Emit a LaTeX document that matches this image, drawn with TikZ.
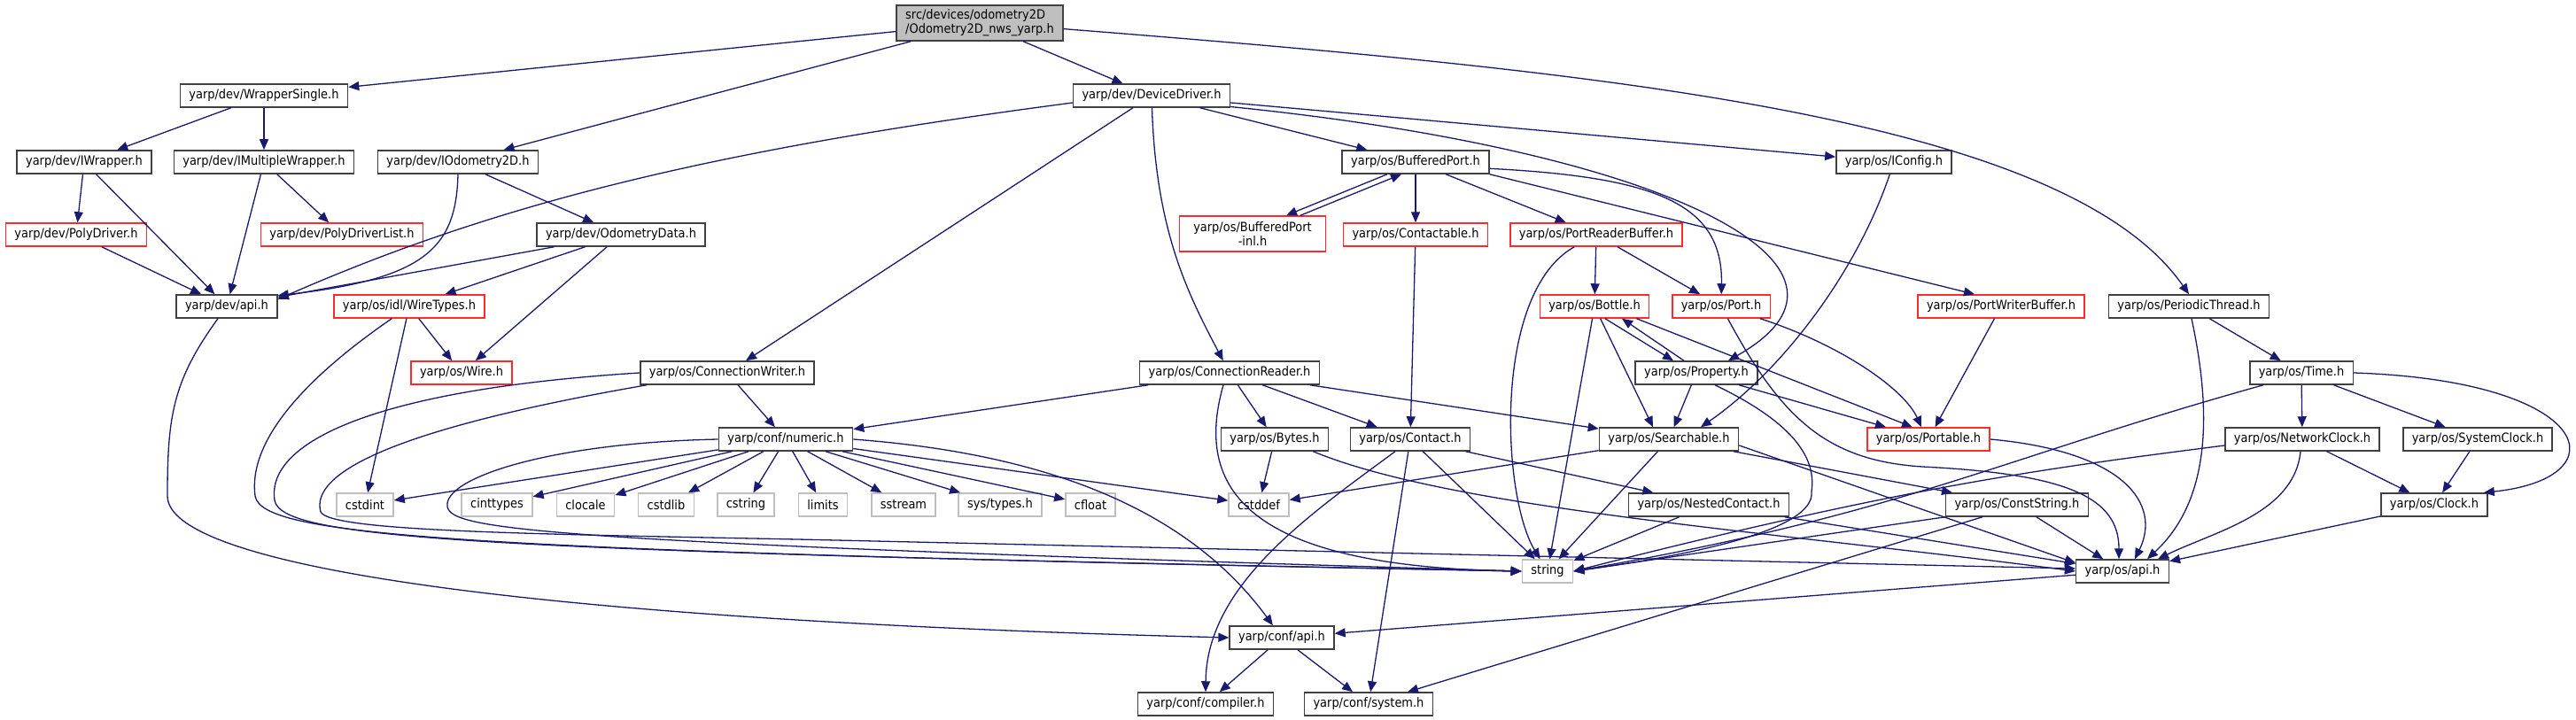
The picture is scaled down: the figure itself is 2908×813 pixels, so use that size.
\documentclass[tikz,border=0pt]{standalone}
\usepackage{fontspec}
\setmainfont{DejaVu Sans Condensed}
\usetikzlibrary{arrows.meta,calc}
\definecolor{edgeblue}{HTML}{191970}
\definecolor{boxline}{HTML}{404040}
\definecolor{truncred}{HTML}{FF2A2A}
\definecolor{extgray}{HTML}{BFBFBF}
\definecolor{rootfill}{HTML}{BFBFBF}

\begin{document}
\begin{tikzpicture}[
  x=0.5pt,y=-0.5pt,
  hdr/.style={draw=boxline,fill=white,line width=0.75pt,minimum height=13pt,
              inner xsep=5pt,inner ysep=1pt,text=black,
              font=\fontsize{7.2}{8.2}\selectfont},
  trunc/.style={hdr,draw=truncred},
  ext/.style={hdr,draw=extgray},
  root/.style={hdr,fill=rootfill,align=left,minimum height=20pt},
  dep/.style={-{Triangle[length=6pt,width=5pt]},draw=edgeblue,line width=0.65pt}
]
\fill[white] (0,0) rectangle (2908,813);
\useasboundingbox (0,0) rectangle (2908,813);

% Top of the graph
\node[root] (root) at (1106,26) {src/devices/odometry2D\\/Odometry2D\_nws\_yarp.h};
\node[hdr] (wrapsingle) at (298,108) {yarp/dev/WrapperSingle.h};
\node[hdr] (devdriver) at (1300,108) {yarp/dev/DeviceDriver.h};

% yarp/dev headers
\node[hdr] (iwrapper) at (95,183) {yarp/dev/IWrapper.h};
\node[hdr] (imultiwrap) at (298,183) {yarp/dev/IMultipleWrapper.h};
\node[hdr] (iodom) at (517,183) {yarp/dev/IOdometry2D.h};
\node[trunc] (polydrv) at (86,265) {yarp/dev/PolyDriver.h};
\node[trunc] (polylist) at (386,265) {yarp/dev/PolyDriverList.h};
\node[hdr] (odomdata) at (701,265) {yarp/dev/OdometryData.h};
\node[hdr] (devapi) at (256,346) {yarp/dev/api.h};
\node[trunc] (wiretypes) at (462,346) {yarp/os/idl/WireTypes.h};
\node[trunc] (wire) at (521,421) {yarp/os/Wire.h};

% yarp/os headers
\node[hdr] (bufport) at (1598,183) {yarp/os/BufferedPort.h};
\node[hdr] (iconfig) at (2138,183) {yarp/os/IConfig.h};
\node[trunc,align=center,minimum height=20pt,inner xsep=8pt] (bufinl) at (1414,264)
  {yarp/os/BufferedPort\\-inl.h};
\node[trunc] (contactable) at (1598,265) {yarp/os/Contactable.h};
\node[trunc] (preader) at (1802,265) {yarp/os/PortReaderBuffer.h};
\node[trunc] (bottle) at (1800,346) {yarp/os/Bottle.h};
\node[trunc] (port) at (1943,346) {yarp/os/Port.h};
\node[trunc] (pwriter) at (2259,346) {yarp/os/PortWriterBuffer.h};
\node[hdr] (periodic) at (2471,346) {yarp/os/PeriodicThread.h};
\node[hdr] (connwriter) at (821,421) {yarp/os/ConnectionWriter.h};
\node[hdr] (connreader) at (1388,421) {yarp/os/ConnectionReader.h};
\node[hdr] (property) at (1915,421) {yarp/os/Property.h};
\node[hdr] (time) at (2598,421) {yarp/os/Time.h};
\node[hdr] (numeric) at (887,496) {yarp/conf/numeric.h};
\node[hdr] (bytes) at (1439,496) {yarp/os/Bytes.h};
\node[hdr] (contact) at (1592,496) {yarp/os/Contact.h};
\node[hdr] (searchable) at (1884,496) {yarp/os/Searchable.h};
\node[trunc] (portable) at (2177,496) {yarp/os/Portable.h};
\node[hdr] (netclock) at (2599,496) {yarp/os/NetworkClock.h};
\node[hdr] (sysclock) at (2797,496) {yarp/os/SystemClock.h};
\node[hdr] (nested) at (1929,570) {yarp/os/NestedContact.h};
\node[hdr] (conststr) at (2277,570) {yarp/os/ConstString.h};
\node[hdr] (clock) at (2748,570) {yarp/os/Clock.h};
\node[hdr] (osapi) at (2396,645) {yarp/os/api.h};

% system headers
\node[ext] (cstdint) at (412,570) {cstdint};
\node[ext] (cinttypes) at (561,570) {cinttypes};
\node[ext] (clocale) at (661,570) {clocale};
\node[ext] (cstdlib) at (752,570) {cstdlib};
\node[ext] (cstring) at (842,570) {cstring};
\node[ext] (limits) at (929,570) {limits};
\node[ext] (sstream) at (1020,570) {sstream};
\node[ext] (systypes) at (1129,570) {sys/types.h};
\node[ext] (cfloat) at (1231,570) {cfloat};
\node[ext] (cstddef) at (1421,570) {cstddef};
\node[ext] (string) at (1747,645) {string};

% yarp/conf bottom row
\node[hdr] (confapi) at (1447,720) {yarp/conf/api.h};
\node[hdr] (compiler) at (1361,795) {yarp/conf/compiler.h};
\node[hdr] (system) at (1545,795) {yarp/conf/system.h};

% Edges from the root
\draw[dep] (root) -- (wrapsingle);
\draw[dep] (root) -- (iodom);
\draw[dep] (root) -- (devdriver);
\draw[dep] (root.-4) .. controls (1800,80) and (2330,130) .. (periodic.north);

% yarp/dev side
\draw[dep] (wrapsingle) -- (iwrapper);
\draw[dep] (wrapsingle) -- (imultiwrap);
\draw[dep] (iwrapper) -- (polydrv);
\draw[dep] (iwrapper) -- (devapi);
\draw[dep] (imultiwrap) -- (polylist);
\draw[dep] (imultiwrap) -- (devapi);
\draw[dep] (polydrv) -- (devapi);
\draw[dep] (iodom) -- (odomdata);
\draw[dep] (iodom.south) .. controls (515,280) and (480,315) .. (devapi.12);
\draw[dep] (odomdata) -- (devapi);
\draw[dep] (odomdata) -- (wiretypes);
\draw[dep] (odomdata) -- (wire);
\draw[dep] (wiretypes) -- (wire);
\draw[dep] (wiretypes) -- (cstdint);

% DeviceDriver
\draw[dep] ($(devdriver.west)+(0,8)$) .. controls (800,170) and (560,230) .. (devapi.8);
\draw[dep] (devdriver) -- (connwriter);
\draw[dep] (devdriver) .. controls (1305,260) and (1340,330) .. (connreader);
\draw[dep] (devdriver) -- (bufport);
\draw[dep] (devdriver) -- (iconfig);
\draw[dep] (devdriver.-8) .. controls (1880,170) and (2140,300) .. ($(property.north)+(36,0)$);

% BufferedPort
\draw[dep] ($(bufport.south)+(-32,0)$) -- ($(bufinl.north)+(38,0)$);
\draw[dep] ($(bufinl.north)+(54,0)$) -- ($(bufport.south)+(-16,0)$);
\draw[dep] (bufport) -- (contactable);
\draw[dep] (bufport) -- (preader);
\draw[dep] (bufport.-5) .. controls (1870,200) and (1945,230) .. (port);
\draw[dep] (bufport.south east) -- ($(pwriter.north)+(-30,0)$);
\draw[dep] (iconfig) .. controls (2095,310) and (2010,420) .. ($(searchable.north)+(36,0)$);
\draw[dep] (contactable) -- (contact);

% PortReaderBuffer, Bottle, Property, Port
\draw[dep] (preader) -- (bottle);
\draw[dep] (preader) -- (port);
\draw[dep] (preader) .. controls (1685,330) and (1695,560) .. (string);
\draw[dep] ($(bottle.south)+(12,0)$) -- ($(property.north)+(-26,0)$);
\draw[dep] ($(property.north)+(-14,0)$) -- ($(bottle.south)+(31,0)$);
\draw[dep] (bottle) -- ($(searchable.north)+(-18,0)$);
\draw[dep] (bottle) -- (string);
\draw[dep] ($(bottle.south east)+(-15,0)$) -- ($(portable.north)+(-18,0)$);
\draw[dep] (property) -- (searchable);
\draw[dep] (property) -- (portable);
\draw[dep] ($(property.south)+(21,0)$) .. controls (2030,480) and (2050,520) .. (2045,555)
  .. controls (2050,600) and (1900,628) .. (string.east);
\draw[dep] ($(port.south east)+(-12,0)$) .. controls (2080,390) and (2150,440) .. ($(portable.north)+(-8,0)$);
\draw[dep] (port) .. controls (2010,470) and (2060,520) .. (2170,527)
  .. controls (2330,535) and (2392,560) .. ($(osapi.north)+(-4,0)$);
\draw[dep] (pwriter) -- (portable);
\draw[dep] (portable.east) .. controls (2400,510) and (2440,570) .. ($(osapi.north)+(14,0)$);

% PeriodicThread, Time and clocks
\draw[dep] (periodic) -- (time);
\draw[dep] ($(periodic.south)+(3,0)$) .. controls (2500,480) and (2490,570) .. ($(osapi.north)+(28,0)$);
\draw[dep] (time) -- (netclock);
\draw[dep] (time) -- (sysclock);
\draw[dep] (time.east) .. controls (2930,430) and (2960,540) .. ($(clock.north east)+(-5,0)$);
\draw[dep] ($(time.south west)+(16,0)$) .. controls (2250,520) and (2150,580) .. (string.east);
\draw[dep] (netclock) -- (clock);
\draw[dep] ($(netclock.south)+(-2,0)$) .. controls (2590,580) and (2500,600) .. ($(osapi.north)+(40,0)$);
\draw[dep] ($(netclock.west)+(0,7)$) .. controls (2300,530) and (2150,550) .. (string.east);
\draw[dep] (sysclock) -- (clock);
\draw[dep] (clock) -- (osapi);

% Searchable, ConstString, NestedContact
\draw[dep] (searchable) -- (cstddef);
\draw[dep] (searchable) -- (string);
\draw[dep] (searchable) -- (conststr);
\draw[dep] (searchable.-5) -- (osapi.170);
\draw[dep] (conststr) -- (osapi);
\draw[dep] (conststr.south west) -- (string.east);
\draw[dep] ($(conststr.south west)+(42,0)$) -- ($(system.north)+(44,0)$);
\draw[dep] (nested) -- (string);
\draw[dep] (nested) -- (osapi);

% Contact and Bytes
\draw[dep] ($(contact.south)+(-17,0)$) .. controls (1480,580) and (1362,660) .. (compiler.north);
\draw[dep] (contact) -- (system);
\draw[dep] (contact) -- (string);
\draw[dep] (contact) -- (nested);
\draw[dep] (bytes) -- (cstddef);
\draw[dep] ($(bytes.south east)+(-18,0)$) .. controls (1640,575) and (2000,600) .. (osapi.west);

% ConnectionReader / ConnectionWriter
\draw[dep] (connreader) -- (numeric);
\draw[dep] (connreader) -- (bytes);
\draw[dep] (connreader) -- (contact);
\draw[dep] (connreader) -- (searchable);
\draw[dep] ($(connreader.south)+(-7,0)$) .. controls (1345,560) and (1420,640) .. (string.west);
\draw[dep] (connwriter) -- (numeric);
\draw[dep] (connwriter.west) .. controls (420,440) and (300,500) .. (310,565)
  .. controls (318,610) and (550,622) .. (string.west);
\draw[dep] ($(connwriter.south west)+(8,0)$) .. controls (440,485) and (350,535) .. (362,578)
  .. controls (372,600) and (600,603) .. (900,609) -- ($(osapi.west)+(0,-3)$);
\draw[dep] ($(wiretypes.south west)+(66,0)$) .. controls (340,430) and (280,500) .. (288,560)
  .. controls (296,605) and (500,622) .. (string.west);

% yarp/conf/numeric.h
\draw[dep] (numeric.west) .. controls (620,500) and (500,540) .. (505,572)
  .. controls (510,598) and (600,612) .. (string.west);
\draw[dep] (numeric) -- (cstdint);
\draw[dep] (numeric) -- (cinttypes);
\draw[dep] (numeric) -- (clocale);
\draw[dep] (numeric) -- (cstdlib);
\draw[dep] (numeric) -- (cstring);
\draw[dep] (numeric) -- (limits);
\draw[dep] (numeric) -- (sstream);
\draw[dep] (numeric) -- (systypes);
\draw[dep] (numeric) -- (cfloat);
\draw[dep] (numeric) -- (cstddef);
\draw[dep] (numeric.east) .. controls (1150,510) and (1330,560) .. (confapi);

% api headers
\draw[dep] (devapi) .. controls (195,430) and (189,470) .. (189,560)
  .. controls (189,640) and (600,700) .. (confapi.west);
\draw[dep] (osapi) -- (confapi);
\draw[dep] (confapi) -- (compiler);
\draw[dep] (confapi) -- (system);

\end{tikzpicture}
\end{document}
